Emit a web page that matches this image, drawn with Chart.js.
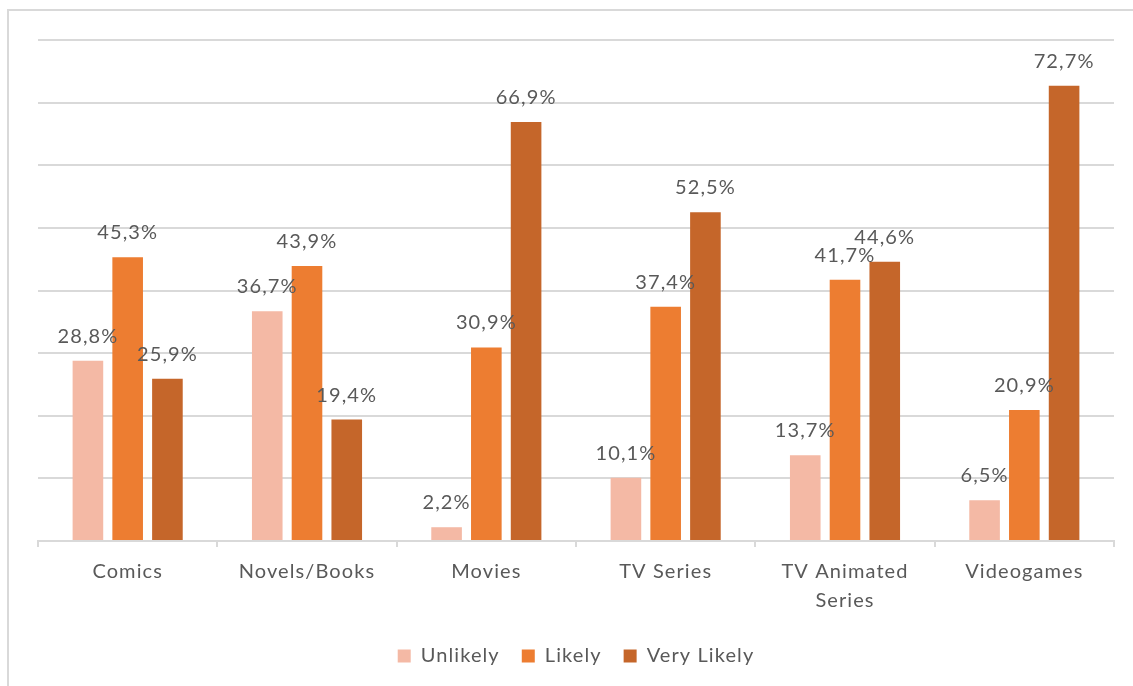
<!DOCTYPE html>
<html>
<head>
<meta charset="utf-8">
<script src="https://cdn.jsdelivr.net/npm/chart.js@4/dist/chart.umd.min.js"></script>
<style>
  html, body { margin: 0; padding: 0; background: #fff; overflow: hidden; }
  #frame {
    position: absolute; left: 0; top: 0; width: 1133px; height: 686px;
  }
  #frame::before {
    content: ''; position: absolute; left: 7px; top: 9px; right: 0; bottom: 0;
    border-left: 2px solid #d9d9d9; border-top: 2px solid #d9d9d9;
  }
  canvas { position: absolute; left: 0; top: 0; }
</style>
</head>
<body>
<div id="frame"><canvas id="c" width="1133" height="686"></canvas></div>
<script>
const categories = ['Comics', 'Novels/Books', 'Movies', 'TV Series', ['TV Animated', 'Series'], 'Videogames'];
const unlikely = [28.8, 36.7, 2.2, 10.1, 13.7, 6.5];
const likely = [45.3, 43.9, 30.9, 37.4, 41.7, 20.9];
const veryLikely = [25.9, 19.4, 66.9, 52.5, 44.6, 72.7];
const yTicks = { min: 0, max: 80, step: 10 };

const FONT = 'Lato, "Open Sans", sans-serif';
const TEXT = '#595959';
const SPACING = '1.1px';

// a bit of tracking on all text, applied before layout and drawing
const tracking = {
  id: 'tracking',
  beforeUpdate(chart) { chart.ctx.letterSpacing = SPACING; },
  beforeLayout(chart) { chart.ctx.letterSpacing = SPACING; },
  beforeDraw(chart) { chart.ctx.letterSpacing = SPACING; }
};

// value labels above each bar, comma as decimal separator
const barLabels = {
  id: 'barLabels',
  afterDatasetsDraw(chart) {
    const ctx = chart.ctx;
    ctx.save();
    ctx.font = '20px ' + FONT;
    ctx.fillStyle = TEXT;
    ctx.textAlign = 'center';
    ctx.textBaseline = 'alphabetic';
    chart.data.datasets.forEach((ds, i) => {
      chart.getDatasetMeta(i).data.forEach((bar, j) => {
        const txt = ds.data[j].toFixed(1).replace('.', ',') + '%';
        ctx.fillText(txt, bar.x, bar.y - 18);
      });
    });
    ctx.restore();
  }
};

new Chart(document.getElementById('c').getContext('2d'), {
  type: 'bar',
  data: {
    labels: categories,
    datasets: [
      { label: 'Unlikely', data: unlikely, backgroundColor: '#F4B9A5' },
      { label: 'Likely', data: likely, backgroundColor: '#ED7D31' },
      { label: 'Very Likely', data: veryLikely, backgroundColor: '#C5662A' }
    ]
  },
  options: {
    responsive: false,
    animation: false,
    datasets: { bar: { categoryPercentage: 0.665, barPercentage: 0.77 } },
    layout: { padding: { left: 38, right: 19, top: 40, bottom: 10 } },
    scales: {
      x: {
        grid: { drawOnChartArea: false, drawTicks: true, tickLength: 6, color: '#d9d9d9', lineWidth: 2 },
        border: { color: '#d9d9d9', width: 2 },
        ticks: { color: TEXT, font: { family: FONT, size: 20, lineHeight: 1.45 }, padding: 10, maxRotation: 0 },
        afterFit(scale) { scale.height -= 1; }
      },
      y: {
        min: yTicks.min, max: yTicks.max,
        ticks: { stepSize: yTicks.step, display: false },
        grid: { color: '#d9d9d9', lineWidth: 2, drawTicks: false },
        border: { display: false }
      }
    },
    plugins: {
      legend: {
        position: 'bottom',
        labels: { color: TEXT, font: { family: FONT, size: 20 }, boxWidth: 13, boxHeight: 13, padding: 22 }
      },
      tooltip: { enabled: false }
    }
  },
  plugins: [tracking, barLabels]
});
</script>
</body>
</html>
